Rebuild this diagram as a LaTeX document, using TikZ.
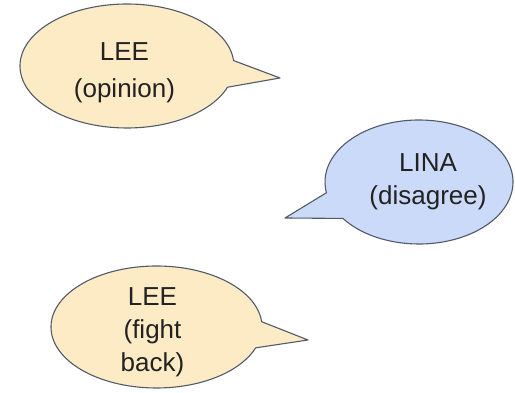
\documentclass[tikz,border=0pt]{standalone}
\usepackage{fontspec}
\setmainfont{Liberation Sans}
\definecolor{bubbleyellow}{HTML}{FDEBC6}
\definecolor{bubbleblue}{HTML}{CBDAF8}
\definecolor{bubbleline}{HTML}{505A69}
\definecolor{bubbletext}{HTML}{222222}
\begin{document}
\begin{tikzpicture}[x=1pt,y=1pt,
  bubble/.style={draw=bubbleline, line width=1.1pt, line join=round},
  saying/.style={align=center, inner sep=0pt, text=bubbletext}]
\useasboundingbox (0,0) rectangle (515,393);

% speech bubble 1: Lee's opinion
\coordinate (c1) at (127,327);
\coordinate (t1) at (280,315);
\draw[bubble, fill=bubbleyellow] (c1) ++(5:107pt and 62pt)
  arc[start angle=5, end angle=340, x radius=107pt, y radius=62pt] -- (t1) -- cycle;
\node[saying, font=\fontsize{26}{36.5}\selectfont] (lee1) at (124.5,320.3) {LEE\\(opinion)};

% speech bubble 2: Lina disagrees
\coordinate (c2) at (419,211);
\coordinate (t2) at (285,175);
\draw[bubble, fill=bubbleblue] (c2) ++(216:94pt and 62pt)
  arc[start angle=216, end angle=550, x radius=94pt, y radius=62pt] -- (t2) -- cycle;
\node[saying, font=\fontsize{26}{33.3}\selectfont] (lina) at (428,211.2) {LINA\\(disagree)};

% speech bubble 3: Lee fights back
\coordinate (c3) at (156.5,66);
\coordinate (t3) at (308,53);
\draw[bubble, fill=bubbleyellow] (c3) ++(5:105.5pt and 61pt)
  arc[start angle=5, end angle=340, x radius=105.5pt, y radius=61pt] -- (t3) -- cycle;
\node[saying, font=\fontsize{26}{33}\selectfont] (lee2) at (152.5,60.5) {LEE\\(fight\\back)};
\end{tikzpicture}
\end{document}
